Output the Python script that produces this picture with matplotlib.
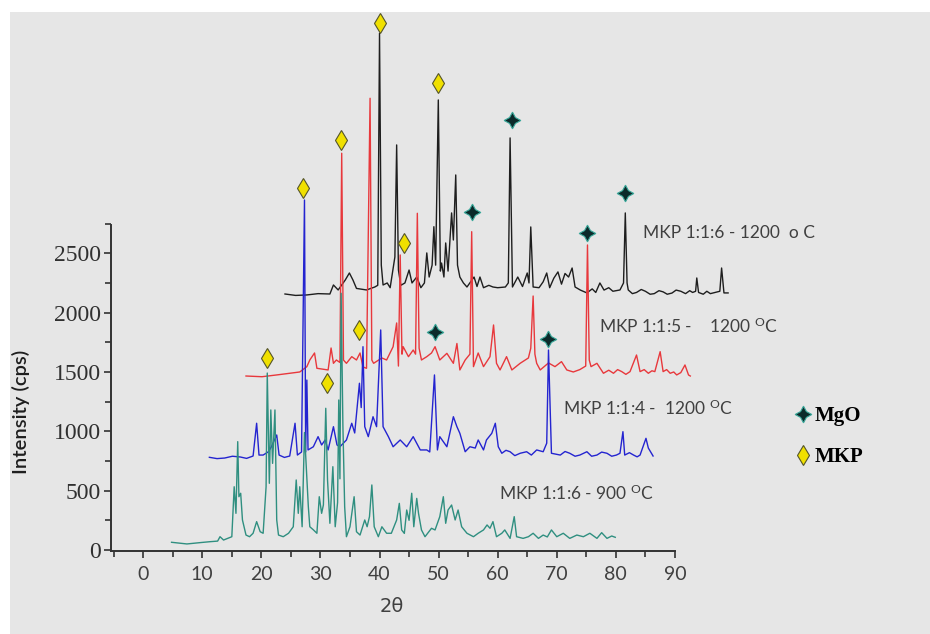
import matplotlib
matplotlib.use("Agg")
import matplotlib.pyplot as plt
from matplotlib.patches import Rectangle
from matplotlib.lines import Line2D

# XRD patterns (2theta, counts) before the waterfall shift
teal_tt = [4.8, 7.4, 9.6, 11.3, 12.6, 13.0, 13.6, 15.0, 15.4, 15.7, 16.0, 16.2, 16.5, 16.8, 17.4, 18.0,
           18.6, 19.2, 19.8, 20.3, 20.8, 21.0, 21.35, 21.6, 21.9, 22.3, 22.6, 22.9, 23.7, 24.6, 25.4,
           25.9, 26.25, 26.5, 26.9, 27.3, 27.95, 28.2, 28.8, 29.4, 29.8, 30.2, 30.5, 30.9, 31.2, 31.6,
           32.1, 32.5, 32.9, 33.1, 33.3, 33.5, 33.8, 34.1, 34.4, 35.0, 35.7, 36.1, 36.7, 37.5, 37.9,
           38.3, 38.7, 39.1, 39.8, 40.4, 41.2, 42.0, 42.9, 43.35, 43.75, 44.2, 44.6, 45.0, 45.45, 45.8,
           46.3, 46.6, 47.1, 47.7, 48.8, 49.4, 50.2, 50.8, 51.2, 51.6, 52.2, 52.8, 53.3, 53.9, 54.8,
           55.9, 56.7, 57.6, 58.2, 58.7, 59.2, 59.8, 60.7, 61.2, 62.1, 62.8, 63.2, 64.3, 65.2, 66.0,
           66.9, 67.7, 68.4, 69.1, 70.0, 71.1, 72.2, 73.4, 74.5, 75.6, 76.8, 77.6, 78.5, 79.3, 79.9]
teal_i = [65, 51, 62, 70, 75, 112, 84, 112, 533, 309, 913, 449, 478, 253, 126, 112,
          141, 239, 154, 141, 533, 1491, 562, 1180, 730, 1180, 253, 126, 112, 141, 196,
          590, 309, 533, 196, 990, 365, 196, 170, 141, 449, 309, 380, 1194, 590, 225,
          702, 196, 400, 1264, 600, 2163, 1050, 365, 112, 196, 449, 154, 126, 253, 196,
          281, 548, 196, 112, 196, 141, 141, 253, 393, 169, 140, 337, 250, 478, 196,
          435, 309, 169, 112, 183, 169, 281, 449, 225, 337, 379, 253, 337, 196, 141,
          112, 141, 169, 211, 183, 239, 112, 141, 169, 98, 281, 112, 98, 112, 141,
          98, 126, 110, 169, 112, 141, 98, 126, 112, 141, 98, 146, 98, 118, 107]

blue_tt = [4.9, 6.2, 7.5, 8.8, 10.1, 11.2, 12.3, 12.9, 13.3, 14.0, 14.9, 15.4, 16.3, 16.7, 17.6, 18.5,
           19.4, 19.8, 20.5, 21.0, 21.2, 21.4, 21.6, 22.5, 23.3, 23.9, 24.5, 25.0, 25.9, 26.5, 27.0,
           28.1, 29.0, 29.5, 30.3, 30.6, 30.9, 31.2, 31.8, 32.6, 33.2, 33.9, 34.3, 35.2, 36.0, 37.2,
           38.3, 39.4, 40.6, 41.7, 42.2, 43.0, 43.5, 43.9, 45.1, 46.2, 46.8, 47.3, 48.2, 49.0, 49.9,
           50.4, 51.3, 51.8, 52.7, 53.3, 53.8, 54.4, 55.1, 55.8, 56.6, 57.5, 58.6, 59.4, 60.3, 61.4,
           62.0, 62.3, 62.8, 64.3, 65.1, 65.9, 66.8, 67.6, 68.8, 69.6, 70.5, 71.3, 72.2, 73.0, 73.8,
           74.4, 74.9, 75.2, 76.0, 76.7, 77.3, 77.8, 78.8, 79.2, 80.0]
blue_i = [81, 70, 75, 90, 84, 72, 92, 368, 100, 100, 128, 170, 269, 100, 80, 92,
          368, 100, 126, 2249, 126, 732, 143, 170, 255, 185, 227, 143, 339, 185, 170,
          227, 368, 286, 705, 500, 1013, 339, 255, 423, 339, 1154, 339, 255, 170, 227,
          170, 255, 143, 143, 126, 775, 143, 255, 170, 423, 339, 283, 128, 170, 159,
          227, 143, 227, 283, 368, 170, 115, 140, 128, 95, 115, 128, 100, 143, 128,
          200, 985, 115, 100, 130, 115, 90, 100, 128, 90, 100, 125, 115, 90, 100,
          115, 297, 100, 120, 100, 85, 100, 241, 159, 92]

red_tt = [4.8, 7.5, 10.0, 12.2, 13.9, 15.1, 15.6, 16.4, 16.8, 18.7, 19.2, 19.6, 20.1, 20.7, 21.0, 21.3,
          21.8, 22.7, 23.5, 24.1, 24.6, 25.2, 25.8, 26.1, 26.4, 27.8, 28.6, 29.7, 30.3, 30.6, 30.9,
          31.2, 31.4, 32.3, 33.1, 33.5, 33.8, 34.1, 34.5, 35.4, 36.2, 36.8, 37.6, 38.8, 39.9, 40.5,
          41.0, 41.9, 42.7, 43.0, 43.3, 44.1, 45.0, 46.1, 46.7, 47.2, 47.8, 48.9, 49.8, 51.2, 52.6,
          53.0, 53.4, 53.7, 54.0, 54.6, 56.0, 57.1, 58.2, 59.1, 60.2, 61.3, 62.3, 62.6, 62.9, 63.2, 64.2,
          65.3, 66.2, 67.0, 67.7, 68.4, 69.1, 69.8, 70.9, 71.5, 72.2, 72.9, 73.5, 74.0, 74.9, 75.4, 76.0,
          76.6, 77.2, 77.7, 78.4, 79.1, 79.7, 80.0]
red_i = [66, 60, 75, 89, 100, 145, 201, 260, 131, 117, 302, 173, 201, 180, 1943, 200,
         173, 229, 201, 260, 142, 131, 2406, 200, 173, 218, 201, 313, 513, 150, 1086,
         250, 313, 229, 285, 250, 1437, 300, 201, 229, 260, 313, 201, 257, 173, 340,
         117, 201, 250, 1282, 145, 260, 145, 229, 496, 173, 117, 229, 117, 173, 218,
         300, 740, 250, 173, 117, 176, 145, 187, 117, 100, 120, 150, 1170, 200, 145, 173,
         89, 115, 89, 120, 103, 80, 103, 243, 103, 120, 89, 110, 103, 271, 103, 120,
         89, 100, 75, 95, 159, 75, 66]

black_tt = [5.0, 6.8, 8.7, 10.6, 12.6, 13.2, 14.0, 15.2, 15.9, 16.5, 17.1, 18.8, 20.2, 20.7, 21.0, 21.3,
            21.6, 22.3, 22.8, 23.6, 23.9, 24.2, 24.6, 25.3, 26.0, 26.5, 27.3, 28.0, 28.6, 29.0, 29.4,
            29.9, 30.2, 30.5, 30.95, 31.3, 31.5, 31.9, 32.2, 32.6, 33.2, 33.5, 33.9, 34.2, 34.6, 35.2,
            35.8, 37.0, 37.5, 38.0, 38.6, 39.5, 40.2, 41.0, 42.3, 42.8, 43.1, 43.5, 44.4, 45.2, 46.0,
            46.3, 46.6, 47.0, 48.0, 48.7, 49.3, 49.8, 50.5, 51.2, 51.8, 52.4, 53.0, 53.6, 54.1, 55.0,
            56.1, 57.0, 57.6, 58.3, 59.0, 59.8, 60.5, 61.7, 62.3, 62.6, 62.9, 63.1, 63.8, 64.5, 65.3,
            66.0, 66.8, 67.5, 68.3, 69.0, 69.7, 70.5, 71.2, 72.0, 72.8, 73.5, 74.0, 74.5, 74.7, 75.0,
            75.8, 76.4, 77.0, 77.8, 78.6, 78.9, 79.3, 80.0]
black_i = [57, 45, 49, 60, 57, 133, 91, 175, 234, 175, 104, 91, 116, 130, 2254, 300,
           133, 150, 110, 369, 1313, 259, 130, 150, 259, 150, 200, 110, 150, 403, 200,
           300, 624, 300, 1692, 250, 318, 200, 487, 250, 740, 512, 1060, 300, 200, 150,
           116, 200, 120, 200, 110, 130, 116, 110, 116, 150, 1372, 116, 200, 120, 234,
           150, 622, 116, 110, 160, 234, 110, 190, 243, 140, 230, 200, 276, 116, 90,
           66, 100, 70, 150, 90, 110, 80, 91, 150, 740, 150, 91, 60, 70, 95,
           80, 55, 60, 85, 75, 55, 65, 90, 80, 60, 85, 70, 80, 192, 70,
           55, 80, 60, 70, 80, 276, 66, 66]

series_tt = [teal_tt, blue_tt, red_tt, black_tt]
series_i = [teal_i, blue_i, red_i, black_i]
series_names = ["MKP 1:1:6 - 900 $\\mathregular{^O}$C",
                "MKP 1:1:4 -  1200 $\\mathregular{^O}$C",
                "MKP 1:1:5 -    1200 $\\mathregular{^O}$C",
                "MKP 1:1:6 - 1200  o C"]

# phase markers: (series index, 2theta, height) in unshifted coordinates
mkp_series = [0, 0, 1, 1, 2, 2, 3, 3]
mkp_tt = [20.9, 31.1, 20.8, 30.2, 20.9, 31.5, 21.1, 30.85]
mkp_i = [1615, 1410, 2348, 1154, 2055, 1184, 2343, 1838]
mgo_series = [2, 1, 2, 2, 3, 3]
mgo_tt = [36.8, 62.3, 43.05, 62.6, 43.4, 62.55]
mgo_i = [439, 1075, 1451, 1274, 1523, 906]

# waterfall layout
shift_x = [0, 6.3, 12.6, 19.0]
shift_y = [0, 700, 1400, 2100]
colors = ["#2f8f80", "#2424d0", "#e8383c", "#1e1e1e"]
label_pos = [(60.2, 480), (71.0, 1196), (77.2, 1887), (84.6, 2671)]

plt.rcParams["mathtext.fontset"] = "custom"
plt.rcParams["mathtext.rm"] = "Lato"

fig = plt.figure(figsize=(9.3, 6.34), dpi=100)
fig.patch.set_facecolor("white")
fig.patches.append(Rectangle((10 / 930, 0), 1, 1 - 12 / 634, transform=fig.transFigure,
                             facecolor="#e6e6e6", edgecolor="none", zorder=-10))

ax = fig.add_axes([111 / 930, 1 - 551 / 634, 649 / 930, 539 / 634])
ax.set_facecolor("none")

# back to front: black, red, blue, teal
for k in [3, 2, 1, 0]:
    xs = [t + shift_x[k] for t in series_tt[k]]
    ys = [v + shift_y[k] for v in series_i[k]]
    ax.plot(xs, ys, color=colors[k], lw=1.0, zorder=2 + (3 - k))
    ax.text(label_pos[k][0], label_pos[k][1], series_names[k], family="Lato", fontsize=12.5,
            color="#404040", ha="left", va="center", zorder=8)

mgo_style = dict(marker=(4, 1, 0), markersize=12, markerfacecolor="#0c2a2a",
                 markeredgecolor="#3aa89a", markeredgewidth=0.8, linestyle="none")
mkp_style = dict(marker="d", markersize=10, markerfacecolor="#f0e000",
                 markeredgecolor="#55552a", markeredgewidth=0.8, linestyle="none")

ax.plot([t + shift_x[s] for s, t in zip(mgo_series, mgo_tt)],
        [v + shift_y[s] for s, v in zip(mgo_series, mgo_i)], zorder=10, **mgo_style)
ax.plot([t + shift_x[s] for s, t in zip(mkp_series, mkp_tt)],
        [v + shift_y[s] for s, v in zip(mkp_series, mkp_i)], zorder=10, **mkp_style)

ax.set_xlim(-5.45, 104.4)
ax.set_ylim(-8.4, 4533)

for side in ["top", "right"]:
    ax.spines[side].set_visible(False)
for side in ["left", "bottom"]:
    ax.spines[side].set_color("#333333")
    ax.spines[side].set_linewidth(1.4)
ax.spines["left"].set_bounds(-8.4, 2740)
ax.spines["bottom"].set_bounds(-5.45, 90)

ax.set_xticks(range(0, 91, 10))
ax.set_xticks(range(-5, 91, 10), minor=True)
ax.set_yticks(range(0, 2501, 500))
ax.set_yticks(range(250, 2751, 500), minor=True)
ax.tick_params(which="both", direction="out", color="#333333", width=1.2)
ax.tick_params(which="major", length=5)
ax.tick_params(which="minor", length=4)
ax.tick_params(axis="x", pad=6)
ax.tick_params(axis="y", pad=2)
for lab in ax.get_xticklabels():
    lab.set_family("Lato")
    lab.set_fontsize(14)
    lab.set_color("#404040")
for lab in ax.get_yticklabels():
    lab.set_family("Liberation Serif")
    lab.set_fontsize(17)
    lab.set_color("#303030")

ax.set_xlabel("2θ", family="DejaVu Sans", fontsize=14, color="#404040")
ax.xaxis.set_label_coords(0.433, -0.085)
ax.set_ylabel("Intensity (cps)", family="Lato", fontsize=14.5, weight="semibold", color="#1e1e1e")
ax.yaxis.set_label_coords(-0.125, 0.258)

handles = [Line2D([], [], **mgo_style), Line2D([], [], **mkp_style)]
fig.legend(handles, ["MgO", "MKP"], loc="upper left", bbox_to_anchor=(784 / 930, 1 - 396 / 634),
           frameon=False, borderpad=0, handlelength=0.8, handletextpad=0.15, labelspacing=1.0,
           prop={"family": "Liberation Serif", "weight": "bold", "size": 15})

fig.savefig("out.png", dpi=100)
